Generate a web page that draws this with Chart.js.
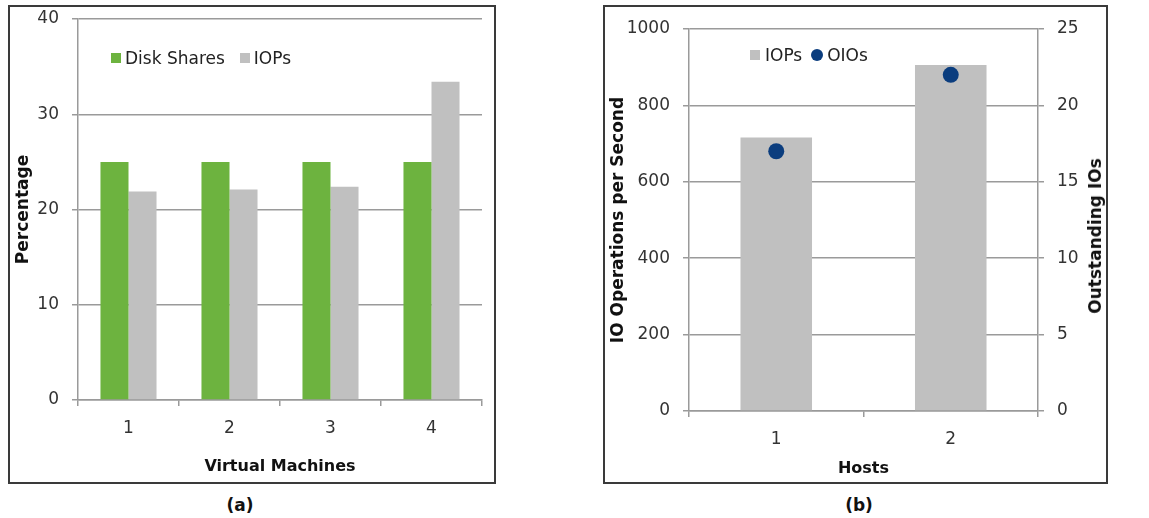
<!DOCTYPE html>
<html>
<head>
<meta charset="utf-8">
<script src="https://cdn.jsdelivr.net/npm/chart.js@4.4.1/dist/chart.umd.min.js"></script>
<style>
  body { margin: 0; background: #fff; font-family: "DejaVu Sans", sans-serif; color: #222; }
  #page { position: relative; width: 1149px; height: 518px; overflow: hidden; background: #fff; }
  .frame { position: absolute; border: 2px solid #3a3a3a; box-sizing: border-box; }
  canvas { position: absolute; }
  .cap { position: absolute; font-weight: bold; font-size: 17px; transform: translate(-50%, -50%); color: #111; }
  .leg { position: absolute; font-size: 17px; line-height: 20px; display: flex; align-items: center; white-space: nowrap; color: #222; }
  .sq { width: 10px; height: 10px; display: inline-block; }
  .dot { width: 12px; height: 12px; border-radius: 50%; display: inline-block; }
  .ytitle { position: absolute; font-weight: bold; font-size: 17px; color: #111; white-space: nowrap;
            transform: translate(-50%, -50%) rotate(-90deg); }
</style>
</head>
<body>
<div id="page">
  <div class="frame" style="left:8px;top:5px;width:488px;height:479px"></div>
  <canvas id="chartA" width="484" height="475" style="left:10px;top:7px"></canvas>
  <div class="leg" style="left:111px;top:48px">
    <span class="sq" style="background:#6db33f;margin-right:4px"></span>Disk Shares
    <span class="sq" style="background:#c0c0c0;margin-left:15px;margin-right:4px"></span>IOPs
  </div>
  <div class="cap" style="left:240px;top:505px">(a)</div>

  <div class="frame" style="left:603px;top:5px;width:505px;height:479px"></div>
  <canvas id="chartB" width="501" height="475" style="left:605px;top:7px"></canvas>
  <div class="leg" style="left:750px;top:45px">
    <span class="sq" style="background:#c0c0c0;margin-right:5px"></span>IOPs
    <span class="dot" style="background:#0b3d7e;margin-left:9px;margin-right:4px"></span>OIOs
  </div>
  <div class="ytitle" style="left:1095px;top:236px">Outstanding IOs</div>
  <div class="cap" style="left:859px;top:505px">(b)</div>
</div>

<script>
// (a) share of disk vs share of IOPs per VM
const vmLabels = ['1', '2', '3', '4'];
const diskShares = [25, 25, 25, 25];
const vmIops = [21.9, 22.1, 22.4, 33.4];

// (b) per-host IOPs and outstanding IOs
const hostLabels = ['1', '2'];
const hostIops = [716, 906];
const hostOios = [17, 22];

const gridColor = '#9a9a9a';
const gridWidth = 1.5;
const tickFont = { family: 'DejaVu Sans', size: 17 };
const xTitleFont = { family: 'DejaVu Sans', size: 16, weight: 'bold' };
const yTitleFont = { family: 'DejaVu Sans', size: 17, weight: 'bold' };

Chart.defaults.font.family = 'DejaVu Sans';
Chart.defaults.color = '#333';

// fixed axis box sizes so the plot area lands where the original has it
function fixY(width) {
  return s => { s.width = width; s.paddingTop = 0; s.paddingBottom = 0; };
}

new Chart(document.getElementById('chartA'), {
  type: 'bar',
  data: {
    labels: vmLabels,
    datasets: [
      { label: 'Disk Shares', data: diskShares, backgroundColor: '#6db33f', borderWidth: 0 },
      { label: 'IOPs', data: vmIops, backgroundColor: '#c0c0c0', borderWidth: 0 }
    ]
  },
  options: {
    responsive: false,
    animation: false,
    layout: { padding: { top: 12, right: 12, left: 0, bottom: 0 } },
    datasets: { bar: { categoryPercentage: 0.555, barPercentage: 1 } },
    plugins: { legend: { display: false }, tooltip: { enabled: false } },
    scales: {
      x: {
        grid: { drawOnChartArea: false, color: gridColor, lineWidth: gridWidth, tickLength: 6 },
        border: { color: gridColor, width: gridWidth },
        ticks: { font: tickFont, color: '#333', padding: 12 },
        title: { display: true, text: 'Virtual Machines', font: xTitleFont, color: '#111', padding: { top: 4, bottom: 6 } },
        afterFit: s => { s.height = 82; }
      },
      y: {
        min: 0, max: 40,
        grid: { color: gridColor, lineWidth: gridWidth, tickLength: 6 },
        border: { color: gridColor, width: gridWidth },
        ticks: { stepSize: 10, font: tickFont, color: '#333', padding: 13 },
        title: { display: true, text: 'Percentage', font: yTitleFont, color: '#111', padding: { top: 3, bottom: 4 } },
        afterFit: fixY(68)
      }
    }
  }
});

new Chart(document.getElementById('chartB'), {
  type: 'bar',
  data: {
    labels: hostLabels,
    datasets: [
      { type: 'line', label: 'OIOs', data: hostOios, yAxisID: 'y2', showLine: false,
        pointRadius: 8, pointBackgroundColor: '#0b3d7e', pointBorderWidth: 0, order: 0 },
      { label: 'IOPs', data: hostIops, yAxisID: 'y', backgroundColor: '#c0c0c0', borderWidth: 0,
        categoryPercentage: 1, barPercentage: 0.41, order: 1 }
    ]
  },
  options: {
    responsive: false,
    animation: false,
    layout: { padding: { top: 22, right: 0, left: 0, bottom: 0 } },
    plugins: { legend: { display: false }, tooltip: { enabled: false } },
    scales: {
      x: {
        grid: { drawOnChartArea: false, color: gridColor, lineWidth: gridWidth, tickLength: 6 },
        border: { color: gridColor, width: gridWidth },
        ticks: { font: tickFont, color: '#333', padding: 12 },
        title: { display: true, text: 'Hosts', font: xTitleFont, color: '#111', padding: { top: 4, bottom: 4 } },
        afterFit: s => { s.height = 71; }
      },
      y: {
        position: 'left',
        min: 0, max: 1000,
        grid: { color: gridColor, lineWidth: gridWidth, tickLength: 6 },
        border: { color: gridColor, width: gridWidth },
        ticks: { stepSize: 200, font: tickFont, color: '#333', padding: 13, callback: v => String(v) },
        title: { display: true, text: 'IO Operations per Second', font: yTitleFont, color: '#111', padding: { top: 3, bottom: 4 } },
        afterFit: fixY(84)
      },
      y2: {
        position: 'right',
        min: 0, max: 25,
        grid: { drawOnChartArea: false, color: gridColor, lineWidth: gridWidth, tickLength: 6 },
        border: { color: gridColor, width: gridWidth },
        ticks: { stepSize: 5, font: tickFont, color: '#333', padding: 13 },
        afterFit: fixY(68)
      }
    }
  }
});
</script>
</body>
</html>
